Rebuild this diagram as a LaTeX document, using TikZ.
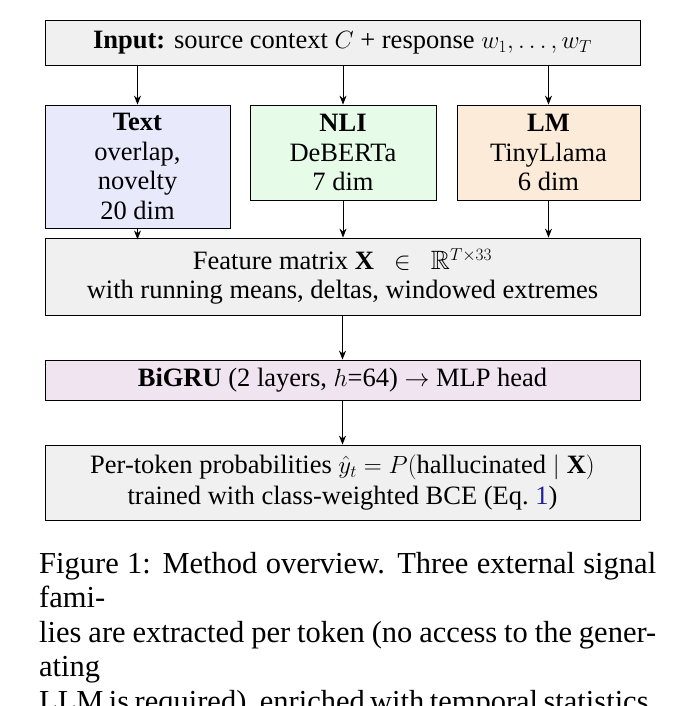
\documentclass[tikz,border=0pt]{standalone}
\usepackage{fontspec}
\setmainfont{Liberation Serif}
\usepackage{amsmath,amssymb}
\usepackage{xcolor}
\usetikzlibrary{arrows.meta}
\definecolor{gbox}{HTML}{F0F0F0}
\definecolor{tbox}{HTML}{E8EAFC}
\definecolor{nbox}{HTML}{E6FCE8}
\definecolor{lbox}{HTML}{FDEBDA}
\definecolor{bbox}{HTML}{F1E4F1}
\definecolor{refblue}{HTML}{1F1FA0}
\begin{document}
\begin{tikzpicture}[x=1pt,y=-1pt,
  box/.style={draw,line width=0.8pt,inner sep=0pt,align=center,font=\fontsize{26.5}{29.5}\selectfont},
  arr/.style={-{Stealth[length=9pt,width=7pt]},line width=0.9pt}]
\useasboundingbox (0,0) rectangle (691,706);
\node[box,fill=gbox,minimum width=595pt,minimum height=45pt] (in) at (342.5,42.5)
  {\textbf{Input:} source context $C$ + response $w_1,\ldots,w_T$};
\node[box,fill=tbox,minimum width=185pt,minimum height=123pt] (t) at (137.5,166.5)
  {\textbf{Text}\\overlap,\\novelty\\20 dim};
\node[box,fill=nbox,minimum width=186pt,minimum height=95pt] (n) at (343,152.5)
  {\textbf{NLI}\\DeBERTa\\7 dim};
\node[box,fill=lbox,minimum width=183pt,minimum height=95pt] (l) at (548.5,152.5)
  {\textbf{LM}\\TinyLlama\\6 dim};
\node[box,fill=gbox,minimum width=595pt,minimum height=77pt] (f) at (342.5,276.5)
  {Feature matrix $\mathbf{X}\ \ \in\ \ \mathbb{R}^{T\times 33}$\\with running means, deltas, windowed extremes};
\node[box,fill=bbox,minimum width=595pt,minimum height=40pt] (b) at (342.5,380)
  {\textbf{BiGRU} (2 layers, $h$=64) $\to$ MLP head};
\node[box,fill=gbox,minimum width=595pt,minimum height=75pt] (o) at (342.5,482.5)
  {Per-token probabilities $\hat{y}_t = P(\text{hallucinated} \mid \mathbf{X})$\\[1pt]trained with class-weighted BCE (Eq.~\textcolor{refblue}{1})};
\draw[arr] (in.south -| t) -- (t.north);
\draw[arr] (in.south -| n) -- (n.north);
\draw[arr] (in.south -| l) -- (l.north);
\draw[arr] (t.south) -- ++(0,11);
\draw[arr] (n.south) -- (n.south |- f.north);
\draw[arr] (l.south) -- (l.south |- f.north);
\draw[arr] (f.south) -- (b.north);
\draw[arr] (b.south) -- (o.north);
\node[anchor=north west,text width=617pt,align=justify,inner sep=0pt,font=\fontsize{30.5}{34.5}\selectfont] (cap) at (39,552)
  {Figure 1: Method overview. Three external signal fami-\linebreak lies are extracted per token (no access to the generating\linebreak LLM is required), enriched with temporal statistics, and\linebreak labeled jointly by a bidirectional sequence model.};
\end{tikzpicture}
\end{document}
